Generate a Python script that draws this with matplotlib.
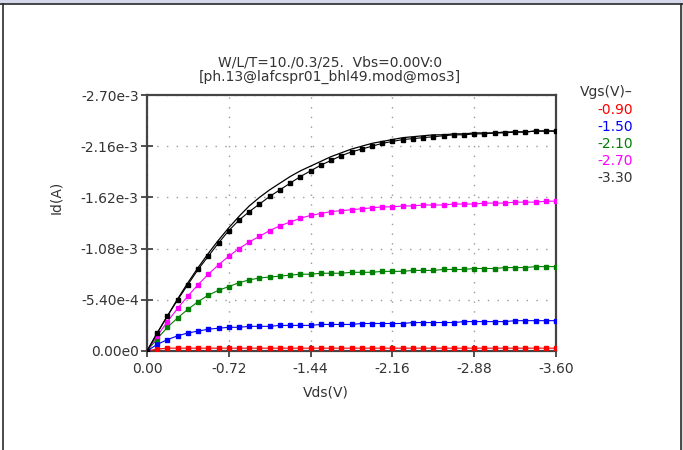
"""
plot.py

PMOS output characteristics Id-Vds for several Vgs, measured points
(squares) with model lines, drawn in the style of a device-model viewer.
"""

import numpy as np
import matplotlib
matplotlib.use("Agg")
import matplotlib.pyplot as plt
from matplotlib.lines import Line2D
from matplotlib.patches import Rectangle

# Drain voltage sweep (V)
vds = [0.00, -0.09, -0.18, -0.27, -0.36, -0.45, -0.54, -0.63, -0.72, -0.81,
       -0.90, -0.99, -1.08, -1.17, -1.26, -1.35, -1.44, -1.53, -1.62, -1.71,
       -1.80, -1.89, -1.98, -2.07, -2.16, -2.25, -2.34, -2.43, -2.52, -2.61,
       -2.70, -2.79, -2.88, -2.97, -3.06, -3.15, -3.24, -3.33, -3.42, -3.51,
       -3.60]

# Gate voltages and colours (legend order)
vgs_labels = ["-0.90", "-1.50", "-2.10", "-2.70", "-3.30"]
vgs_colors = ["#ff0000", "#0000ff", "#008000", "#ff00ff", "#000000"]

# Measured drain current, mA (negative = PMOS)
id_090 = [0.00, -0.02, -0.03, -0.03, -0.03, -0.03, -0.03, -0.03, -0.03, -0.03,
          -0.03, -0.03, -0.03, -0.03, -0.03, -0.03, -0.03, -0.03, -0.03, -0.03,
          -0.03, -0.03, -0.03, -0.03, -0.03, -0.03, -0.03, -0.03, -0.03, -0.03,
          -0.03, -0.03, -0.03, -0.03, -0.03, -0.03, -0.03, -0.03, -0.03, -0.03,
          -0.03]
id_150 = [0.00, -0.07, -0.12, -0.16, -0.19, -0.21, -0.23, -0.24, -0.25, -0.25,
          -0.26, -0.26, -0.26, -0.27, -0.27, -0.27, -0.27, -0.28, -0.28, -0.28,
          -0.28, -0.29, -0.29, -0.29, -0.29, -0.29, -0.30, -0.30, -0.30, -0.30,
          -0.30, -0.31, -0.31, -0.31, -0.31, -0.31, -0.32, -0.32, -0.32, -0.32,
          -0.32]
id_210 = [0.00, -0.13, -0.25, -0.35, -0.44, -0.52, -0.59, -0.64, -0.68, -0.72,
          -0.75, -0.77, -0.78, -0.79, -0.80, -0.81, -0.81, -0.82, -0.82, -0.82,
          -0.83, -0.83, -0.83, -0.84, -0.84, -0.84, -0.85, -0.85, -0.85, -0.86,
          -0.86, -0.86, -0.87, -0.87, -0.87, -0.88, -0.88, -0.88, -0.89, -0.89,
          -0.89]
id_270 = [0.00, -0.16, -0.31, -0.45, -0.58, -0.70, -0.81, -0.91, -1.00, -1.08,
          -1.15, -1.21, -1.27, -1.32, -1.36, -1.40, -1.43, -1.45, -1.47, -1.48,
          -1.49, -1.50, -1.51, -1.52, -1.52, -1.53, -1.53, -1.54, -1.54, -1.54,
          -1.55, -1.55, -1.55, -1.56, -1.56, -1.56, -1.57, -1.57, -1.57, -1.58,
          -1.58]
id_330 = [0.00, -0.19, -0.37, -0.54, -0.70, -0.86, -1.00, -1.14, -1.27, -1.38,
          -1.47, -1.55, -1.63, -1.70, -1.77, -1.84, -1.90, -1.96, -2.01, -2.06,
          -2.10, -2.13, -2.16, -2.19, -2.21, -2.23, -2.24, -2.25, -2.26, -2.27,
          -2.28, -2.28, -2.29, -2.29, -2.30, -2.30, -2.31, -2.31, -2.32, -2.32,
          -2.32]
# Model line for Vgs=-3.30 (sits a little above the measured knee)
id_330_model = [0.00, -0.19, -0.37, -0.55, -0.72, -0.88, -1.03, -1.17, -1.30, -1.42,
                -1.53, -1.62, -1.70, -1.77, -1.84, -1.90, -1.95, -2.00, -2.05, -2.09,
                -2.13, -2.16, -2.19, -2.21, -2.23, -2.25, -2.26, -2.27, -2.28, -2.28,
                -2.29, -2.29, -2.30, -2.30, -2.30, -2.31, -2.31, -2.31, -2.32, -2.32,
                -2.32]

y_ticks = [0.0, -0.54e-3, -1.08e-3, -1.62e-3, -2.16e-3, -2.70e-3]
y_tick_labels = ["0.00e0", "-5.40e-4", "-1.08e-3", "-1.62e-3", "-2.16e-3", "-2.70e-3"]
x_ticks = [0.00, -0.72, -1.44, -2.16, -2.88, -3.60]
x_tick_labels = ["0.00", "-0.72", "-1.44", "-2.16", "-2.88", "-3.60"]

plt.rcParams["font.family"] = ["DejaVu Sans"]
text_color = "#333333"

fig = plt.figure(figsize=(6.83, 4.5), dpi=100)
fig.patch.set_facecolor("white")

# Window frame: light bar on top, dark borders
fig.add_artist(Rectangle((0, 1 - 3.5 / 450), 1, 3.5 / 450, transform=fig.transFigure,
                         facecolor="#d4d8ea", edgecolor="none"))
fig.add_artist(Line2D([0, 1], [1 - 3.5 / 450] * 2, transform=fig.transFigure,
                      color="#2a2a2a", lw=1.2))
fig.add_artist(Line2D([2.5 / 683] * 2, [0, 1 - 3.5 / 450], transform=fig.transFigure,
                      color="#2a2a2a", lw=1.2))
fig.add_artist(Line2D([680.5 / 683] * 2, [0, 1 - 3.5 / 450], transform=fig.transFigure,
                      color="#2a2a2a", lw=1.2))
fig.add_artist(Rectangle((681.5 / 683, 0), 1.5 / 683, 1 - 3.5 / 450,
                         transform=fig.transFigure, facecolor="#d8d8d8", edgecolor="none"))

ax = fig.add_axes([147 / 683, 1 - 351 / 450, (556 - 147) / 683, (351 - 95) / 450])

# Dotted grid
ax.grid(True, color="#9a9a9a", linestyle=(0, (1, 6)), linewidth=1.0)
ax.set_axisbelow(True)

series = [id_090, id_150, id_210, id_270, id_330]
vds_arr = np.array(vds)
for vals, color in zip(series, vgs_colors):
    ia = np.array(vals) * 1e-3
    ax.plot(vds_arr, ia, color=color, lw=0.8, zorder=3)
    ax.plot(vds_arr, ia, linestyle="none", marker="s", markersize=3.2,
            markerfacecolor=color, markeredgecolor=color, zorder=4)
ax.plot(vds_arr, np.array(id_330_model) * 1e-3, color="black", lw=0.9, zorder=5)

ax.set_xlim(0, -3.6)
ax.set_ylim(0, -2.7e-3)
ax.set_xticks(x_ticks)
ax.set_xticklabels(x_tick_labels)
ax.set_yticks(y_ticks)
ax.set_yticklabels(y_tick_labels)
ax.tick_params(axis="both", direction="inout", length=8, width=1.2,
               colors="#333333", labelsize=10, labelcolor=text_color)
ax.tick_params(axis="y", pad=2)
ax.tick_params(axis="x", pad=4)
for spine in ax.spines.values():
    spine.set_color("#444444")
    spine.set_linewidth(1.6)

# Title and axis labels
fig.text(330 / 683, 1 - 62 / 450, "W/L/T=10./0.3/25.  Vbs=0.00V:0",
         ha="center", va="center", fontsize=10, color=text_color)
fig.text(330 / 683, 1 - 77 / 450, "[ph.13@lafcspr01_bhl49.mod@mos3]",
         ha="center", va="center", fontsize=10, color=text_color)
fig.text(56 / 683, 1 - 197 / 450, "Id(A)", rotation=90,
         ha="center", va="center", fontsize=10, color=text_color)
fig.text(326 / 683, 1 - 392 / 450, "Vds(V)",
         ha="center", va="center", fontsize=10, color=text_color)

# Vgs legend as coloured text column
fig.text(633 / 683, 1 - 92 / 450, "Vgs(V)\u2013", ha="right", va="center",
         fontsize=10, color=text_color)
for i, (lab, color) in enumerate(zip(vgs_labels, vgs_colors)):
    c = text_color if color == "#000000" else color
    fig.text(633 / 683, 1 - (110 + 17 * i) / 450, lab, ha="right", va="center",
             fontsize=10, color=c)

fig.savefig("out.png", dpi=100, facecolor=fig.get_facecolor())
